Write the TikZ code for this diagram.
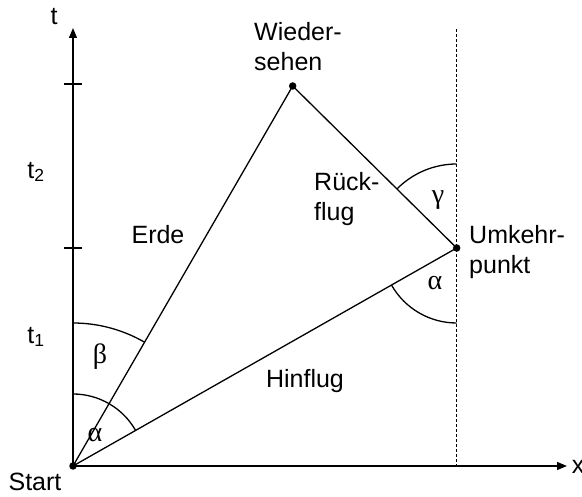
\documentclass[tikz,border=0pt]{standalone}
\usepackage{fontspec}
\setmainfont{Liberation Sans}
\newfontfamily\grk{Liberation Serif}
\usetikzlibrary{arrows.meta}
\begin{document}
\begin{tikzpicture}[x=1pt,y=-1pt,
  lbl/.style={font=\fontsize{25}{30}\selectfont, inner sep=0pt},
  mlbl/.style={lbl, align=left, anchor=west},
  glbl/.style={font=\grk\fontsize{28}{32}\selectfont, inner sep=0pt},
  dot/.style={circle, fill=black, inner sep=0pt, minimum size=7.5pt},
  ln/.style={line width=1.3pt},
  axis/.style={line width=1.3pt, -{Triangle[length=10pt,width=8pt]}},
  guide/.style={line width=0.8pt, dash pattern=on 3pt off 2pt}]
\useasboundingbox (0,0) rectangle (582,497);
% points
\node[dot] (O) at (73,466) {};
\node[dot] (W) at (292.7,86) {};
\node[dot] (U) at (456.7,248) {};
\coordinate (ttop) at (73,28);
\coordinate (xend) at (567,466);
\coordinate (dtop) at (456.7,29);
\coordinate (dbot) at (456.7,466);
\coordinate (k1a) at (64,84);
\coordinate (k1b) at (82,84);
\coordinate (k2a) at (64,248);
\coordinate (k2b) at (82,248);
% axes
\draw[axis] (O.center) -- (ttop);
\draw[axis] (O.center) -- (xend);
\draw[guide] (dtop) -- (dbot);
\draw[ln] (k1a) -- (k1b);
\draw[ln] (k2a) -- (k2b);
% world lines
\draw[ln] (O.center) -- (W.center);
\draw[ln] (O.center) -- (U.center);
\draw[ln] (U.center) -- (W.center);
% angle arcs
\draw[ln] (O.center) ++(-90:143) arc[start angle=-90, end angle=-59.93, radius=143];
\draw[ln] (O.center) ++(-90:72) arc[start angle=-90, end angle=-29.6, radius=72];
\draw[ln] (U.center) ++(-135.35:84) arc[start angle=-135.35, end angle=-90, radius=84];
\draw[ln] (U.center) ++(90:75) arc[start angle=90, end angle=150.4, radius=75];
% labels
\node[lbl] (tl) at (54,17) {t};
\node[lbl] (xl) at (578,467) {x};
\node[lbl] (t2) at (36,172) {t\textsubscript{2}};
\node[lbl] (t1) at (36,337) {t\textsubscript{1}};
\node[lbl] (st) at (35,482) {Start};
\node[mlbl] (wl) at (254,47) {Wieder-\\sehen};
\node[mlbl] (rl) at (314,199) {Rück-\\flug};
\node[mlbl] (ul) at (469,252) {Umkehr-\\punkt};
\node[lbl] (el) at (158,235) {Erde};
\node[lbl] (hl) at (305,381) {Hinflug};
\node[glbl] (b1) at (100,357) {β};
\node[glbl] (a1) at (95,435) {α};
\node[glbl] (g1) at (438,200) {γ};
\node[glbl] (a2) at (435,283) {α};
\end{tikzpicture}
\end{document}
